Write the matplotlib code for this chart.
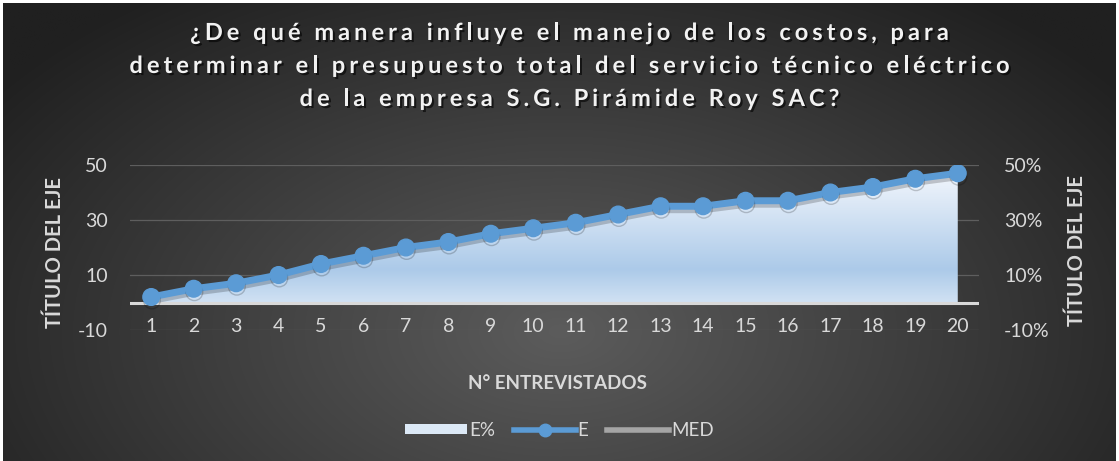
import numpy as np
import matplotlib
matplotlib.use("Agg")
import matplotlib.pyplot as plt
from matplotlib.lines import Line2D
from matplotlib.patches import Patch, Polygon
import matplotlib.patheffects as pe

# ---------------- data ----------------
categories = [str(i) for i in range(1, 21)]
e_values = [2, 5, 7, 10, 14, 17, 20, 22, 25, 27, 29, 32, 35, 35, 37, 37, 40, 42, 45, 47]
e_pct = [0.02, 0.05, 0.07, 0.10, 0.14, 0.17, 0.20, 0.22, 0.25, 0.27,
         0.29, 0.32, 0.35, 0.35, 0.37, 0.37, 0.40, 0.42, 0.45, 0.47]
left_ticks = [-10, 10, 30, 50]
right_ticks = [-0.10, 0.10, 0.30, 0.50]
right_ticklabels = ["-10%", "10%", "30%", "50%"]
title_lines = ["¿De qué manera influye el manejo de los costos, para",
               "determinar el presupuesto total del servicio técnico eléctrico",
               "de la empresa S.G. Pirámide Roy SAC?"]

TXT = "#D9D9D9"
LINE = "#5B9BD5"
FONT = "Lato"
W, H = 1119, 461

fig = plt.figure(figsize=(W / 100, H / 100), dpi=100, facecolor="white")

# radial gradient background
bg = fig.add_axes([0.003, 0.0, 0.994, 0.993])
bg.set_axis_off()
yy, xx = np.mgrid[0:H, 0:W]
r = np.sqrt(((xx - 560) / 700.0) ** 2 + ((yy - 330) / 420.0) ** 2)
r = np.clip(r, 0, 1)
c0 = np.array([0x5c, 0x5c, 0x5c]) / 255.0
c1 = np.array([0x20, 0x20, 0x20]) / 255.0
img = c0[None, None, :] * (1 - r[..., None]) + c1[None, None, :] * r[..., None]
bg.imshow(img, aspect="auto", extent=[0, 1, 0, 1], zorder=-10)
bg.set_xlim(0, 1)
bg.set_ylim(0, 1)

ax = fig.add_axes([130 / W, 1 - 330 / H, (979 - 130) / W, 165 / H])
ax2 = ax.twinx()
ax.set_zorder(ax2.get_zorder() + 1)
ax.patch.set_visible(False)
ax2.patch.set_visible(False)

x = np.arange(1, len(categories) + 1)

# gridlines (behind area)
ax2.set_ylim(-0.10, 0.50)
for t in right_ticks:
    ax2.axhline(t, color="#5E5E5E", lw=0.9, zorder=0)

# area (secondary axis) with gradient fill
verts = [(x[0], 0)] + list(zip(x, e_pct)) + [(x[-1], 0)]
poly = Polygon(verts, closed=True, facecolor="none", edgecolor="none")
ax2.add_patch(poly)
top_c = np.array([0xF2, 0xF6, 0xFC]) / 255.0
mid_c = np.array([0xAC, 0xCA, 0xE9]) / 255.0
bot_c = np.array([0xD0, 0xE1, 0xF3]) / 255.0
g = np.zeros((256, 1, 3))
for i, t in enumerate(np.linspace(0, 1, 256)):
    if t < 0.25:
        s = t / 0.25
        g[i, 0] = bot_c * (1 - s) + mid_c * s
    else:
        s = (t - 0.25) / 0.75
        g[i, 0] = mid_c * (1 - s) + top_c * s
im = ax2.imshow(g, origin="lower", aspect="auto",
                extent=[x[0], x[-1], 0, max(e_pct)], zorder=1)
im.set_clip_path(poly)

ax.axhline(0, color="#D9D9D9", lw=2.2, zorder=2)

# line E
ax.plot(x, e_values, color=LINE, lw=5, marker="o", ms=12,
        markerfacecolor=LINE, markeredgecolor=LINE, zorder=5,
        path_effects=[pe.SimpleLineShadow(offset=(0.5, -2.5), shadow_color="black", alpha=0.2),
                      pe.Normal()])

ax.set_xlim(0.5, len(categories) + 0.5)
ax.set_ylim(-10, 50)
ax2.set_xlim(0.5, len(categories) + 0.5)

ax.set_xticks(x)
ax.set_xticklabels(categories, fontsize=14, color=TXT, family=FONT)
ax.tick_params(axis="x", length=0, pad=-9)
ax.set_yticks(left_ticks)
ax.set_yticklabels([str(t) for t in left_ticks], fontsize=14, color=TXT, family=FONT)
ax.tick_params(axis="y", length=0, pad=16)
ax2.set_yticks(right_ticks)
ax2.set_yticklabels(right_ticklabels, fontsize=14, color=TXT, family=FONT)
ax2.tick_params(axis="y", length=0, pad=18)
for a in (ax, ax2):
    for s in a.spines.values():
        s.set_visible(False)

# ---------- title with letter spacing ----------
renderer = fig.canvas.get_renderer()
tkw = dict(fontsize=17, fontweight="bold", family=FONT)
shadow = [pe.withSimplePatchShadow(offset=(1.5, -1.5), shadow_rgbFace="black", alpha=0.6)]


def text_w(s):
    t = fig.text(0, 0, s, **tkw)
    w = t.get_window_extent(renderer).width
    t.remove()
    return w


bar_w = text_w("||")
track = 4.0
baselines = [40, 73, 106]
for line, base in zip(title_lines, baselines):
    widths = [text_w("|" + c + "|") - bar_w for c in line]
    total = sum(widths) + track * (len(line) - 1)
    xpos = (W / 2 + 10) - total / 2
    for c, w in zip(line, widths):
        if c != " ":
            fig.text(xpos / W, 1 - base / H, c, ha="left", va="baseline",
                     color="#F2F2F2", path_effects=shadow, **tkw)
        xpos += w + track

fig.text(55 / W, 1 - 252 / H, "TÍTULO DEL EJE", rotation=90, ha="center",
         va="center", fontsize=14.5, fontweight="bold", color=TXT, family=FONT)
fig.text(1077 / W, 1 - 250 / H, "TÍTULO DEL EJE", rotation=90, ha="center",
         va="center", fontsize=14.5, fontweight="bold", color=TXT, family=FONT)
fig.text(0.5 - 0.002, 1 - 383 / H, "N° ENTREVISTADOS", ha="center", va="center",
         fontsize=13.5, fontweight="bold", color=TXT, family=FONT)

handles = [Patch(facecolor="#DCE9F6", edgecolor="none"),
           Line2D([], [], color=LINE, lw=4, marker="o", ms=9),
           Line2D([], [], color="#A5A5A5", lw=4)]
leg = fig.legend(handles, ["E%", "E", "MED"], loc="center", ncol=3,
                 bbox_to_anchor=(0.5, 1 - 430 / H), frameon=False,
                 handlelength=3.3, handleheight=0.5, handletextpad=0.1,
                 columnspacing=1.0, prop={"family": FONT, "size": 13.5})
for t in leg.get_texts():
    t.set_color(TXT)

fig.savefig("out.png", dpi=100, facecolor=fig.get_facecolor())
